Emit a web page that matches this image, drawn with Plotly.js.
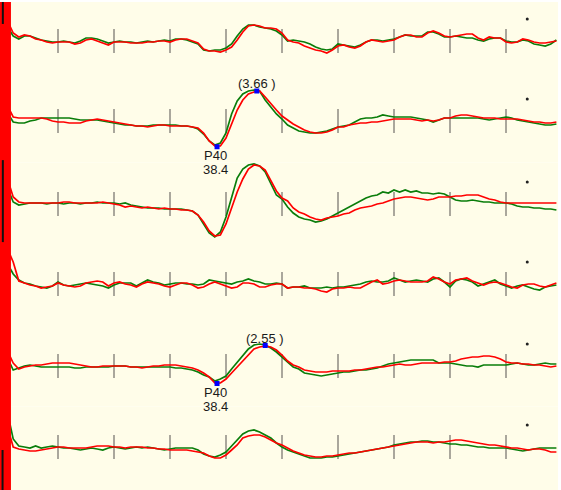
<!DOCTYPE html>
<html>
<head>
<meta charset="utf-8">
<script src="https://cdn.plot.ly/plotly-3.0.1.min.js"></script>
<style>
  html, body { margin: 0; padding: 0; background: #fff; }
  #ep { width: 561px; height: 490px; }
</style>
</head>
<body>
<div id="ep"></div>
<script>
// sample times (ms after stimulus)
const timeMs = [0,1,2,3,4,5,6,7,8,9, 10,11,12,13,14,15,16,17,18,19,
  20,21,22,23,24,25,26,27,28,29, 30,31,32,33,34,35,36,37,38,39,
  40,41,42,43,44,45,46,47,48,49, 50,51,52,53,54,55,56,57,58,59,
  60,61,62,63,64,65,66,67,68,69, 70,71,72,73,74,75,76,77,78,79,
  80,81,82,83,84,85,86,87,88,89, 90,91,92,93,94,95,96,97,98,99];

// channel amplitudes (screen units, up = positive), red = current, green = reference
const ch1Red = [10,20,8,4,6,5,2,1,-1,-2, -1,-1,-1,-3,-2,1,2,0,-2,-4,
  -1,-1,-1,-2,-2,-2,-1,-1,0,0, -1,1,2,2,0,-2,-8,-10,-10,-11,
  -9,-6,1,9,15,16,15,13,13,12, 8,1,-1,-2,-5,-7,-9,-10,-12,-9,
  -5,-4,-6,-7,-5,-1,1,0,-1,0, 1,4,6,6,4,4,8,10,8,5,
  4,5,6,7,7,3,1,4,3,3, -1,-2,-1,2,1,-1,-2,-2,-1,0];
const ch1Green = [6,14,5,2,5,5,3,1,0,-1, -1,0,-1,-2,0,3,3,2,0,-2,
  -1,0,-1,-1,-2,-1,0,-1,0,1, 0,2,2,1,-1,-3,-9,-10,-9,-9,
  -7,-3,5,12,16,16,14,13,12,10, 6,0,1,0,-1,-3,-6,-8,-9,-8,
  -3,-4,-5,-6,-4,-1,1,1,0,1, 2,4,6,5,5,5,9,9,7,4,
  4,5,4,3,3,1,0,2,3,3, 0,-1,-1,1,0,-3,-4,-5,-3,1];

const ch2Red = [30,15,4,3,3,3,3,3,2,0, -1,-1,-2,-2,-2,0,1,2,1,0,
  -1,-2,-3,-4,-5,-5,-6,-5,-4,-4, -5,-5,-5,-5,-6,-7,-12,-20,-25,-25,
  -17,-3,11,21,27,29,30,24,17,11, 5,1,-3,-6,-9,-11,-12,-12,-11,-9,
  -6,-6,-4,-3,-2,-2,-1,-1,0,1, 2,2,2,2,1,0,1,0,1,3,
  3,5,6,6,5,4,3,3,3,2, 2,2,2,1,0,-1,-1,-2,-2,-1];
const ch2Green = [20,8,-1,-2,-2,0,1,3,3,3, 3,3,3,2,1,1,1,1,0,-1,
  -2,-3,-4,-4,-5,-5,-5,-4,-4,-4, -4,-4,-5,-5,-6,-8,-13,-20,-24,-22,
  -12,7,20,27,30,31,30,21,14,7, 2,-4,-7,-10,-11,-12,-12,-11,-10,-8,
  -6,-5,-4,-1,2,3,3,4,6,5, 4,4,4,4,3,2,1,-1,1,3,
  3,3,3,3,3,3,2,1,2,3, 4,3,1,0,-1,-2,-3,-4,-4,-3];

const ch3Red = [40,25,7,2,1,1,1,1,1,1, 1,2,2,1,1,1,1,1,2,1,
  0,-1,-3,-2,-3,-4,-3,-4,-5,-4, -5,-5,-6,-6,-7,-11,-18,-27,-32,-31,
  -20,-4,12,25,35,39,38,34,24,13, 6,3,-4,-8,-10,-13,-15,-16,-14,-13,
  -12,-10,-9,-6,-4,-3,-2,0,1,3, 5,6,7,7,6,5,4,5,7,7,
  7,8,8,9,9,9,7,5,4,2, 1,1,1,1,1,1,1,1,1,1];
const ch3Green = [30,15,2,-1,0,1,1,1,0,1, 1,0,1,1,0,1,1,2,1,1,
  1,0,1,-1,-2,-3,-4,-4,-4,-5, -5,-5,-5,-6,-7,-11,-20,-29,-33,-28,
  -13,6,26,35,39,40,38,32,20,9, 5,-3,-9,-13,-15,-16,-18,-17,-15,-12,
  -9,-6,-3,0,3,6,8,9,12,11, 14,12,14,12,13,11,11,10,11,10,
  7,4,3,3,4,3,2,2,1,1, 1,0,-2,-3,-3,-4,-4,-5,-5,-6];

const ch4Red = [45,35,22,3,1,-1,-2,-4,-3,-2, 1,-1,-2,-3,-2,1,2,3,2,-2,
  1,2,0,-1,-3,0,2,1,0,-2, -3,-1,1,1,-1,-4,-3,0,2,0,
  -2,-4,-3,1,1,0,-3,-3,-1,0, 0,-4,-3,-3,-4,-4,-5,-7,-8,-5,
  -4,-4,-3,-4,-4,-1,2,4,0,1, 3,4,3,2,2,2,3,7,5,2,
  0,4,5,6,3,1,-1,1,2,1, -1,-3,-4,-1,0,0,-2,-3,-1,1];
const ch4Green = [30,20,10,4,1,0,-2,-3,-4,-2, 2,-1,-2,-1,0,1,0,-1,-2,-4,
  -1,1,1,1,-2,1,4,2,1,-1, 0,1,1,0,0,-1,0,4,3,2,
  1,0,2,3,5,3,2,0,0,1, 0,-4,-3,-3,-2,-4,-4,-4,-3,-4,
  -3,-3,-2,-1,0,2,3,2,2,3, 6,4,2,3,4,3,2,5,6,2,
  -3,3,5,4,2,-2,0,2,4,0, -2,-4,-2,-1,-3,-5,-6,-3,-2,-1];

const ch5Red = [30,15,3,-3,-1,0,1,1,2,3, 3,3,3,2,1,0,-1,-1,0,0,
  0,0,0,-1,-1,-2,-1,0,0,1, 1,1,0,-1,-2,-4,-7,-11,-17,-17,
  -13,-7,-1,6,12,17,19,20,19,16, 11,5,1,-1,-4,-5,-6,-6,-6,-5,
  -5,-5,-5,-4,-4,-3,-2,-1,-1,0, 1,2,1,1,2,3,3,3,3,4,
  4,5,7,8,9,9,10,10,9,7, 4,3,3,2,2,1,1,0,-1,0];
const ch5Green = [20,8,-4,-2,0,1,0,-1,-1,-1, -1,-1,-1,-2,-2,-1,-1,-1,-1,-1,
  0,0,0,-1,-1,-1,-1,-1,-1,-1, -1,-2,-2,-3,-4,-6,-9,-11,-15,-13,
  -10,-3,4,11,17,21,22,21,18,14, 9,3,-1,-3,-7,-8,-9,-10,-9,-8,
  -7,-6,-6,-5,-4,-4,-3,-2,0,2, 3,4,5,6,6,6,6,6,3,3,
  3,2,1,0,0,-1,1,1,1,1, 1,2,3,2,1,1,2,3,2,2];

const ch6Red = [40,20,0,-2,-3,-4,-4,-3,-2,-1, 0,0,-1,-1,-1,-1,0,1,1,1,
  0,0,-1,0,0,0,-1,-1,-2,-2, -3,-3,-3,-3,-4,-5,-6,-9,-11,-11,
  -8,-3,2,9,11,12,12,10,7,4, 2,-1,-4,-6,-8,-9,-10,-10,-9,-9,
  -8,-7,-6,-6,-5,-4,-3,-2,-1,0, 1,2,3,4,5,5,5,4,5,5,
  6,7,7,6,5,4,3,2,2,1, 0,-1,-1,-2,-3,-2,-2,-3,-5,-5];
const ch6Green = [45,34,8,1,0,-1,1,-1,0,1, 0,-1,-1,-2,-3,-2,-1,-2,-3,-1,
  0,-1,-2,-1,0,-1,0,-1,-2,-3, -2,-1,-1,-1,-1,-3,-7,-9,-10,-8,
  -5,1,7,13,16,17,15,12,9,4, 0,-3,-5,-7,-9,-11,-11,-11,-10,-10,
  -9,-8,-7,-6,-5,-4,-3,-2,-1,0, 2,3,4,5,5,6,6,5,5,4,
  3,3,2,2,1,0,0,-1,-1,-1, -1,-2,-3,-4,-3,-2,-1,-1,-1,-1];

const redSeries = [ch1Red, ch2Red, ch3Red, ch4Red, ch5Red, ch6Red];
const greenSeries = [ch1Green, ch2Green, ch3Green, ch4Green, ch5Green, ch6Green];

// division marks every 10 ms, calibration dot near the right edge
const tickMs = [10, 20, 30, 40, 50, 60, 70, 80, 90];
const calDotMs = [93.8];
const calDotLevel = [22];

// marked peaks (channel 2 and channel 5)
const markChannel = [1, 4];
const p40Ms = [38.4, 38.4];
const p40Level = [-25.7, -17.5];
const p40Name = ['P40', 'P40'];
const p40Latency = ['38.4', '38.4'];
const peakMs = [45.5, 47];
const peakLevel = [30, 20.5];
const peakText = ['(3.66 )', '(2.55 )'];

// rows on screen (px from top): edges and baselines
const rowEdges = [2, 81, 162.5, 244, 325, 406.5, 490];
const rowBase = [41, 121, 204, 284, 366, 447];
const figH = 490, topM = 2, plotH = figH - topM;

const RED = '#ff0000';
const GREEN = '#0a7d0a';
const BG = '#fffde9';
const TICK = '#aaa79c';

function yName(i) { return i === 0 ? 'y' : 'y' + (i + 1); }

const traces = [];
const layout = {
  width: 561,
  height: 490,
  showlegend: false,
  paper_bgcolor: '#ffffff',
  plot_bgcolor: BG,
  margin: { l: 0, r: 3, t: topM, b: 0 },
  xaxis: {
    range: [-2 / 5.6, 556 / 5.6],
    visible: false,
    fixedrange: true
  },
  shapes: [],
  annotations: []
};

for (let i = 0; i < 6; i++) {
  const yn = yName(i);
  layout['yaxis' + (i === 0 ? '' : i + 1)] = {
    domain: [(figH - rowEdges[i + 1]) / plotH, (figH - rowEdges[i]) / plotH],
    range: [-(rowEdges[i + 1] - rowBase[i]), rowBase[i] - rowEdges[i]],
    anchor: 'x',
    visible: false,
    fixedrange: true
  };

  // tick marks on the baseline
  traces.push({
    x: tickMs,
    y: tickMs.map(() => 0),
    xaxis: 'x', yaxis: yn,
    type: 'scatter', mode: 'markers',
    marker: { symbol: 'line-ns', size: 17, color: TICK, line: { color: TICK, width: 2 } },
    hoverinfo: 'skip'
  });

  traces.push({
    x: timeMs, y: greenSeries[i],
    xaxis: 'x', yaxis: yn,
    type: 'scatter', mode: 'lines',
    line: { color: GREEN, width: 1.7 }
  });
  traces.push({
    x: timeMs, y: redSeries[i],
    xaxis: 'x', yaxis: yn,
    type: 'scatter', mode: 'lines',
    line: { color: RED, width: 1.7 }
  });

  traces.push({
    x: calDotMs, y: calDotLevel,
    xaxis: 'x', yaxis: yn,
    type: 'scatter', mode: 'markers',
    marker: { size: 3, color: '#222' },
    hoverinfo: 'skip'
  });
}

const labelFont = { family: 'Liberation Sans, Arial, sans-serif', size: 13, color: '#1a1a1a' };

markChannel.forEach((ch, k) => {
  const yn = yName(ch);
  traces.push({
    x: [p40Ms[k], peakMs[k]],
    y: [p40Level[k], peakLevel[k]],
    xaxis: 'x', yaxis: yn,
    type: 'scatter', mode: 'markers',
    marker: { symbol: 'square', size: 5, color: '#0000ff' }
  });
  layout.annotations.push(
    { x: peakMs[k], y: peakLevel[k], xref: 'x', yref: yn, text: peakText[k],
      showarrow: false, yanchor: 'bottom', yshift: -2, font: labelFont },
    { x: p40Ms[k], y: p40Level[k], xref: 'x', yref: yn, text: p40Name[k],
      showarrow: false, yanchor: 'top', yshift: 1, xshift: -2, font: labelFont },
    { x: p40Ms[k], y: p40Level[k], xref: 'x', yref: yn, text: p40Latency[k],
      showarrow: false, yanchor: 'top', yshift: -13, xshift: -2, font: labelFont }
  );
});

// stimulus artifact band at the left edge
layout.shapes.push(
  { type: 'rect', xref: 'x', yref: 'paper', x0: -0.4, x1: 1.6, y0: 0, y1: 1,
    fillcolor: RED, line: { width: 0 }, layer: 'above' },
  { type: 'line', xref: 'x', yref: 'paper', x0: 0.15, x1: 0.15, y0: 0.955, y1: 1,
    line: { color: '#111', width: 2 }, layer: 'above' },
  { type: 'line', xref: 'x', yref: 'paper', x0: 0.15, x1: 0.15, y0: 0.508, y1: 0.676,
    line: { color: '#111', width: 2 }, layer: 'above' },
  { type: 'line', xref: 'x', yref: 'paper', x0: 0.1, x1: 0.1, y0: 0, y1: 0.082,
    line: { color: '#111', width: 2 }, layer: 'above' }
);

Plotly.newPlot('ep', traces, layout, { displayModeBar: false, staticPlot: true });
</script>
</body>
</html>
